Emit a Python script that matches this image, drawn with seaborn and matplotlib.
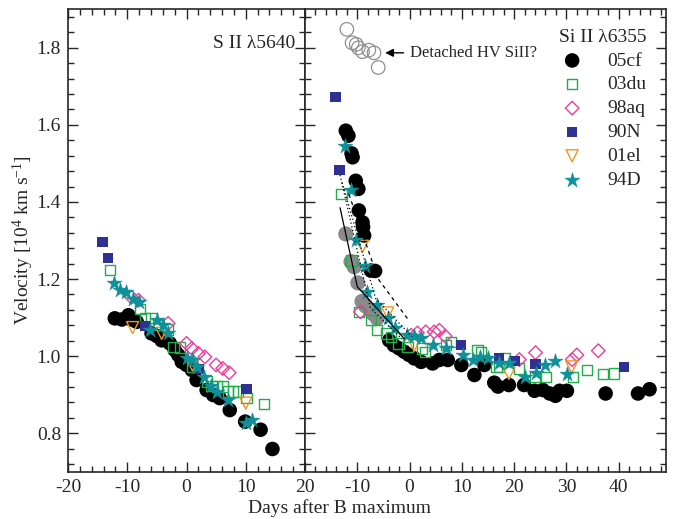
import numpy as np
import pandas as pd
import matplotlib
matplotlib.use("Agg")
import matplotlib.pyplot as plt
import seaborn as sns
from matplotlib.ticker import MultipleLocator

sns.set_style("ticks")
plt.rcParams['font.family'] = ['Liberation Serif', 'DejaVu Serif']
plt.rcParams['mathtext.fontset'] = 'custom'
plt.rcParams['mathtext.rm'] = 'Liberation Serif'
plt.rcParams['mathtext.it'] = 'Liberation Serif:italic'

# ---- S II 5640 (left panel) ----
s_05cf_d = [-12.1, -10.9, -9.8, -9.3, -8.4, -5.9, -5.0, -4.2, -2.8, -2.0, -1.4, -0.8, 0.0, 0.9, 1.7, 3.4, 4.5, 5.6, 7.3, 9.9, 12.5, 14.5]
s_05cf_v = [1.098, 1.095, 1.106, 1.095, 1.089, 1.059, 1.052, 1.041, 1.033, 1.016, 1.003, 0.985, 0.977, 0.964, 0.938, 0.912, 0.899, 0.891, 0.860, 0.830, 0.809, 0.759]
s_03du_d = [-12.9, -7.9, -7.0, -5.9, -4.8, -3.1, -2.2, -1.1, 0.9, 3.4, 4.2, 5.1, 6.2, 7.0, 7.9, 8.7, 10.1, 13.1]
s_03du_v = [1.224, 1.123, 1.098, 1.098, 1.080, 1.069, 1.024, 1.022, 0.972, 0.934, 0.922, 0.921, 0.921, 0.908, 0.908, 0.908, 0.891, 0.876]
s_98aq_d = [-9.3, -8.1, -3.1, 0.0, 0.9, 2.0, 3.1, 5.0, 6.1, 7.2]
s_98aq_v = [1.153, 1.145, 1.085, 1.033, 1.020, 1.007, 0.998, 0.977, 0.968, 0.957]
s_90N_d = [-14.2, -13.2, -7.0, 2.0, 10.1]
s_90N_v = [1.296, 1.255, 1.078, 0.966, 0.914]
s_01el_d = [-9.1, -4.2, 1.0, 10.0]
s_01el_v = [1.074, 1.059, 0.977, 0.878]
s_94D_d = [-12.2, -11.2, -10.2, -9.0, -8.0, -6.1, -5.0, -3.9, -3.1, 0.0, 0.9, 1.7, 3.0, 4.1, 5.1, 7.0, 10.0, 11.1]
s_94D_v = [1.190, 1.171, 1.166, 1.149, 1.140, 1.069, 1.095, 1.080, 1.059, 0.994, 0.990, 0.972, 0.946, 0.922, 0.908, 0.886, 0.827, 0.833]

# ---- Si II 6355 (right panel) ----
si_05cf_d = [-12.2, -11.7, -11.1, -10.9, -10.3, -9.8, -9.7, -9.0, -8.9, -8.7, -7.4, -6.6, -3.9, -3.0, -2.0, -1.0, -0.1, 0.9, 2.2, 4.4, 5.7, 7.3, 9.9, 12.4, 14.3, 16.2, 16.9, 19.0, 21.9, 23.9, 25.5, 26.8, 27.9, 28.7, 30.1, 37.5, 43.7, 45.9]
si_05cf_v = [1.585, 1.572, 1.526, 1.516, 1.455, 1.434, 1.378, 1.347, 1.335, 1.313, 1.222, 1.221, 1.041, 1.028, 1.020, 1.011, 1.003, 0.994, 0.985, 0.981, 0.990, 0.990, 0.977, 0.951, 0.977, 0.931, 0.921, 0.925, 0.925, 0.910, 0.912, 0.903, 0.897, 0.910, 0.910, 0.903, 0.903, 0.914]
si_05cf_gray_d = [-12.2, -11.2, -10.6, -9.9, -9.1, -8.4, -7.6, -7.0, -6.2]
si_05cf_gray_v = [1.317, 1.245, 1.232, 1.190, 1.142, 1.130, 1.120, 1.110, 1.098]
hv_d = [-12.0, -11.0, -10.2, -9.8, -9.0, -7.8, -6.8, -6.0]
hv_v = [1.848, 1.813, 1.809, 1.800, 1.790, 1.794, 1.787, 1.749]
si_03du_d = [-13.0, -11.1, -9.7, -7.4, -6.2, -4.4, -3.6, -2.1, -0.4, 2.4, 3.0, 7.0, 7.9, 13.0, 13.7, 16.6, 17.1, 18.2, 20.9, 24.1, 26.0, 31.2, 34.0, 37.0, 39.1]
si_03du_v = [1.421, 1.248, 1.115, 1.093, 1.067, 1.059, 1.050, 1.033, 1.024, 1.020, 1.011, 1.028, 1.037, 1.016, 1.011, 0.972, 0.972, 0.994, 0.968, 0.946, 0.946, 0.945, 0.964, 0.953, 0.955]
si_98aq_d = [-9.4, 0.3, 1.5, 3.1, 4.7, 5.7, 6.8, 21.0, 24.1, 31.1, 32.0, 36.1]
si_98aq_v = [1.115, 1.054, 1.060, 1.063, 1.063, 1.067, 1.052, 0.991, 1.009, 0.991, 1.003, 1.014]
si_90N_d = [-14.2, -13.4, 9.9, 17.1, 20.1, 24.1, 41.0]
si_90N_v = [1.673, 1.483, 1.028, 0.994, 0.988, 0.979, 0.972]
si_01el_d = [-9.0, -4.2, 0.9, 19.0, 31.0]
si_01el_v = [1.285, 1.112, 1.028, 0.955, 0.972]
si_94D_d = [-12.4, -11.3, -10.2, -8.5, -8.1, -6.2, -4.2, -2.8, -0.4, 0.9, 2.2, 4.4, 7.0, 10.2, 12.1, 13.4, 15.0, 17.1, 19.0, 22.0, 24.1, 26.0, 27.9, 30.1]
si_94D_v = [1.544, 1.430, 1.302, 1.233, 1.166, 1.132, 1.098, 1.072, 1.054, 1.052, 1.046, 1.028, 1.020, 1.003, 0.990, 0.998, 0.994, 0.983, 0.983, 0.946, 0.957, 0.977, 0.988, 0.953]

# model curves
solid_d = [-13.3, -10.0, -1.0]
solid_v = [1.385, 1.180, 1.045]
dotA_d = [-13.3, -7.5, -1.5]
dotA_v = [1.470, 1.125, 1.045]
dotB_d = [-12.9, -6.5, 0.5]
dotB_v = [1.450, 1.150, 1.050]
dash_d = [-11.6, -6.0, 0.0]
dash_v = [1.420, 1.200, 1.090]

names = ['05cf', '03du', '98aq', '90N', '01el', '94D']
colors = {'05cf': 'black', '03du': '#1fae4b', '98aq': '#ec3d9c', '90N': '#2e3192',
          '01el': '#f7941d', '94D': '#0f9199'}
markers = {'05cf': 'o', '03du': 's', '98aq': 'D', '90N': 's', '01el': 'v', '94D': '*'}
sizes = {'05cf': 110, '03du': 55, '98aq': 48, '90N': 55, '01el': 75, '94D': 130}
filled = {'05cf': True, '03du': False, '98aq': False, '90N': True, '01el': False, '94D': True}

left_data = {'05cf': (s_05cf_d, s_05cf_v), '03du': (s_03du_d, s_03du_v), '98aq': (s_98aq_d, s_98aq_v),
             '90N': (s_90N_d, s_90N_v), '01el': (s_01el_d, s_01el_v), '94D': (s_94D_d, s_94D_v)}
right_data = {'05cf': (si_05cf_d, si_05cf_v), '03du': (si_03du_d, si_03du_v), '98aq': (si_98aq_d, si_98aq_v),
              '90N': (si_90N_d, si_90N_v), '01el': (si_01el_d, si_01el_v), '94D': (si_94D_d, si_94D_v)}

fig = plt.figure(figsize=(6.78, 5.19), dpi=100)
ax1 = fig.add_axes([0.1003, 0.0911, 0.3496, 0.891])
ax2 = fig.add_axes([0.4499, 0.0911, 0.5320, 0.891])


def draw(ax, data, label=True):
    for n in names:
        d, v = data[n]
        df = pd.DataFrame({'day': d, 'vel': v})
        if filled[n]:
            kw = dict(color=colors[n], edgecolor='none' if n != '94D' else colors[n], linewidth=0.3)
        else:
            kw = dict(facecolor='none', edgecolor=colors[n], linewidth=1.0)
        sns.scatterplot(data=df, x='day', y='vel', marker=markers[n], s=sizes[n], ax=ax,
                        label=n if label else None, zorder=3 if n != '05cf' else 2, **kw)


draw(ax1, left_data, label=False)

# right panel: lines and gray points first
ax2.plot(solid_d, solid_v, color='black', lw=0.9, zorder=4)
ax2.plot(dotA_d, dotA_v, color='black', lw=0.9, ls=(0, (1, 2)), zorder=4)
ax2.plot(dotB_d, dotB_v, color='black', lw=0.9, ls=(0, (1, 2)), zorder=4)
ax2.plot(dash_d, dash_v, color='black', lw=0.9, ls=(0, (3, 3)), zorder=4)
sns.scatterplot(x=si_05cf_gray_d, y=si_05cf_gray_v, color='#8a8a8a', edgecolor='none', s=120, ax=ax2, zorder=2)
sns.scatterplot(x=hv_d, y=hv_v, facecolor='none', edgecolor='#8f8f8f', linewidth=0.9, s=95, ax=ax2, zorder=2)
draw(ax2, right_data, label=True)

ax2.annotate('Detached HV SiII?', xy=(-5.2, 1.787), xytext=(0.0, 1.787),
             fontsize=12, va='center', ha='left',
             arrowprops=dict(arrowstyle='-|>', color='black', lw=1.0, mutation_scale=12))

for ax, xl in ((ax1, (-20, 20)), (ax2, (-20, 49))):
    ax.set_xlim(*xl)
    ax.set_ylim(0.7, 1.9)
    ax.xaxis.set_major_locator(MultipleLocator(10))
    ax.xaxis.set_minor_locator(MultipleLocator(2))
    ax.yaxis.set_major_locator(MultipleLocator(0.2))
    ax.yaxis.set_minor_locator(MultipleLocator(0.04))
    ax.tick_params(which='both', direction='in', top=True, right=True, labelsize=14, width=1.0)
    ax.tick_params(which='major', length=7, pad=5)
    ax.tick_params(which='minor', length=4)
    for sp in ax.spines.values():
        sp.set_linewidth(1.2)
    ax.set_xlabel('')
    ax.set_ylabel('')

ax1.set_xticks([-20, -10, 0, 10, 20])
ax1.set_xticklabels(['-20', '-10', '0', '10', '20'])
ax2.set_xticks([-20, -10, 0, 10, 20, 30, 40])
ax2.set_xticklabels(['', '-10', '0', '10', '20', '30', '40'])
ax1.set_yticks([0.8, 1.0, 1.2, 1.4, 1.6, 1.8])
ax1.set_yticklabels(['0.8', '1.0', '1.2', '1.4', '1.6', '1.8'])
ax2.tick_params(labelleft=False)

ax1.set_ylabel(r'Velocity [10$^{4}$ km s$^{-1}$]', fontsize=14, labelpad=0)
ax1.yaxis.set_label_coords(-0.135, 0.5)
fig.text(0.5, 0.012, 'Days after B maximum', ha='center', fontsize=14)
ax1.text(0.96, 0.945, 'S II λ5640', transform=ax1.transAxes, ha='right', va='top', fontsize=14)

leg = ax2.legend(title='Si II λ6355', loc='upper right', frameon=False, fontsize=14,
                 title_fontsize=14, handletextpad=0.8, labelspacing=0.32,
                 borderaxespad=0.6, markerscale=1.0)
leg._legend_box.align = 'right'

fig.savefig('out.png', dpi=100)
